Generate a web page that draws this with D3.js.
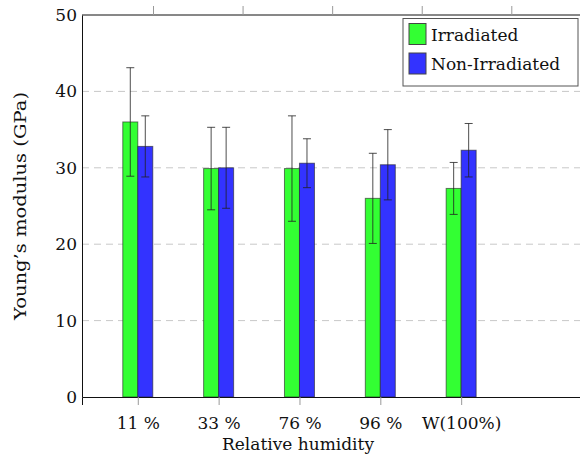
<!DOCTYPE html>
<html>
<head>
<meta charset="utf-8">
<script src="https://cdn.jsdelivr.net/npm/d3@7"></script>
<style>
  body { margin: 0; background: #fff; }
  svg { display: block; }
  svg text { font-family: "DejaVu Serif", "Liberation Serif", serif !important; fill: #111; }
</style>
</head>
<body>
<div id="chart"></div>
<script>
const categories = ["11 %", "33 %", "76 %", "96 %", "W(100%)"];
const irradiated = [36.0, 29.9, 29.9, 26.0, 27.3];
const irradiatedErr = [7.1, 5.4, 6.9, 5.9, 3.4];
const nonIrradiated = [32.8, 30.0, 30.6, 30.4, 32.3];
const nonIrradiatedErr = [4.0, 5.3, 3.2, 4.6, 3.5];
const yTicks = [0, 10, 20, 30, 40, 50];
const gridTicks = [10, 20, 30, 40];

const width = 580;
const height = 456;
const plotLeft = 82, plotRight = 580, plotTop = 15, plotBottom = 397;
const barWidth = 15;
const fontSize = 17;

const svg = d3.select("#chart").append("svg")
  .attr("width", width)
  .attr("height", height)
  .attr("viewBox", [0, 0, width, height]);

// category index -> pixel (bottom axis)
const x = d3.scaleLinear()
  .domain([-0.69, 5.47])
  .range([plotLeft, plotRight]);

// top axis ticks sit on a different spacing in the original
const xTop = d3.scaleLinear()
  .domain([0, 4])
  .range([153, 511.3]);

const y = d3.scaleLinear()
  .domain([0, 50])
  .range([plotBottom, plotTop]);

// grid
svg.append("g")
  .selectAll("line")
  .data(gridTicks)
  .join("line")
  .attr("x1", plotLeft)
  .attr("x2", plotRight)
  .attr("y1", d => y(d))
  .attr("y2", d => y(d))
  .attr("stroke", "#c8c8c8")
  .attr("stroke-width", 1)
  .attr("stroke-dasharray", "7,5");

// bars
const series = [
  {name: "Irradiated", values: irradiated, err: irradiatedErr, color: "#33ff33", offset: -1},
  {name: "Non-Irradiated", values: nonIrradiated, err: nonIrradiatedErr, color: "#3333ff", offset: 0}
];

series.forEach(s => {
  const g = svg.append("g");
  g.selectAll("rect")
    .data(s.values)
    .join("rect")
    .attr("x", (d, i) => x(i) + s.offset * barWidth)
    .attr("y", d => y(d))
    .attr("width", barWidth)
    .attr("height", d => y(0) - y(d))
    .attr("fill", s.color)
    .attr("stroke", "#222")
    .attr("stroke-opacity", 0.6)
    .attr("stroke-width", 1);

  const eb = svg.append("g")
    .attr("stroke", "#222")
    .attr("stroke-opacity", 0.8)
    .attr("stroke-width", 1);
  s.values.forEach((d, i) => {
    const cx = x(i) + s.offset * barWidth + barWidth / 2;
    const hi = y(d + s.err[i]);
    const lo = y(d - s.err[i]);
    eb.append("line").attr("x1", cx).attr("x2", cx).attr("y1", hi).attr("y2", lo);
    eb.append("line").attr("x1", cx - 4).attr("x2", cx + 4).attr("y1", hi).attr("y2", hi);
    eb.append("line").attr("x1", cx - 4).attr("x2", cx + 4).attr("y1", lo).attr("y2", lo);
  });
});

// axes
const xAxis = d3.axisBottom(x)
  .tickValues(d3.range(categories.length))
  .tickFormat(i => categories[i])
  .tickSize(8)
  .tickPadding(12);

const gx = svg.append("g")
  .attr("transform", `translate(0,${plotBottom})`)
  .call(xAxis);
gx.select(".domain").attr("stroke", "#111");
gx.selectAll(".tick line").attr("stroke", "#999");
gx.selectAll(".tick text").attr("font-size", fontSize);

const gxTop = svg.append("g")
  .attr("transform", `translate(0,${plotTop})`)
  .call(d3.axisTop(xTop).tickValues(d3.range(categories.length)).tickFormat("").tickSize(9));
gxTop.select(".domain").attr("d", `M${plotLeft},0H${plotRight}`).attr("stroke", "#111");
gxTop.selectAll(".tick line").attr("stroke", "#999");

const yAxis = d3.axisLeft(y)
  .tickValues(yTicks)
  .tickSize(0)
  .tickPadding(5);

const gy = svg.append("g")
  .attr("transform", `translate(${plotLeft},0)`)
  .call(yAxis);
gy.select(".domain").attr("stroke", "#111");
gy.selectAll(".tick text").attr("font-size", fontSize);

// axis titles
svg.append("text")
  .attr("x", 298)
  .attr("y", 450)
  .attr("text-anchor", "middle")
  .attr("font-size", fontSize)
  .text("Relative humidity");

svg.append("text")
  .attr("transform", `translate(26,206) rotate(-90)`)
  .attr("text-anchor", "middle")
  .attr("font-size", fontSize)
  .attr("textLength", 228)
  .attr("lengthAdjust", "spacingAndGlyphs")
  .text("Young’s modulus (GPa)");

// legend
const legend = svg.append("g").attr("transform", "translate(403,18.5)");
legend.append("rect")
  .attr("width", 175)
  .attr("height", 67.5)
  .attr("fill", "#fff")
  .attr("stroke", "#555")
  .attr("stroke-width", 1);

series.forEach((s, i) => {
  const row = legend.append("g").attr("transform", `translate(6,${5 + i * 29.5})`);
  row.append("rect")
    .attr("width", 17)
    .attr("height", 21)
    .attr("fill", s.color)
    .attr("stroke", "#444")
    .attr("stroke-width", 1);
  row.append("text")
    .attr("x", 22)
    .attr("y", 17)
    .attr("font-size", fontSize)
    .text(s.name);
});
</script>
</body>
</html>
